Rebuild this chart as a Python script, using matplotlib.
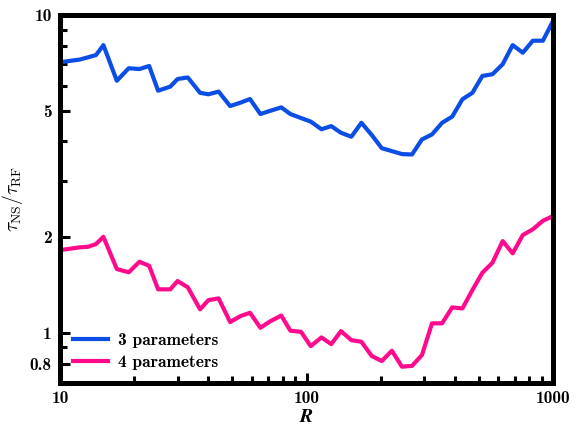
import matplotlib
matplotlib.use("Agg")
import matplotlib.pyplot as plt
from matplotlib.ticker import FixedLocator, NullFormatter

plt.rcParams['mathtext.fontset'] = 'cm'
plt.rcParams['font.family'] = ['cmb10', 'DejaVu Serif']
plt.rcParams['axes.unicode_minus'] = False

# sample sizes (log-spaced, truncated to integers)
R = [10, 10, 12, 13, 14, 15, 17, 19, 21, 23, 25, 28, 30, 33, 37, 40, 44, 49, 54, 59,
     65, 71, 79, 86, 95, 104, 115, 126, 138, 152, 167, 184, 202, 222, 244, 268, 294,
     323, 355, 390, 429, 471, 517, 568, 625, 686, 754, 828, 910, 1000]

ratio_3par = [7.06, 7.10, 7.24, 7.36, 7.48, 8.04, 6.21, 6.80, 6.76, 6.91, 5.78, 5.95,
              6.29, 6.36, 5.69, 5.63, 5.74, 5.17, 5.30, 5.44, 4.88, 4.99, 5.12, 4.88,
              4.74, 4.62, 4.37, 4.47, 4.26, 4.14, 4.58, 4.19, 3.81, 3.73, 3.65, 3.64,
              4.06, 4.21, 4.58, 4.79, 5.43, 5.69, 6.43, 6.51, 7.00, 8.04, 7.61, 8.30,
              8.30, 9.57]

ratio_4par = [1.82, 1.82, 1.857, 1.865, 1.902, 2.005, 1.587, 1.550, 1.673, 1.625, 1.370,
              1.370, 1.455, 1.390, 1.185, 1.267, 1.283, 1.081, 1.129, 1.156, 1.037, 1.085,
              1.133, 1.015, 1.007, 0.908, 0.967, 0.921, 1.012, 0.948, 0.937, 0.845, 0.815,
              0.878, 0.782, 0.787, 0.851, 1.071, 1.071, 1.202, 1.193, 1.363, 1.545, 1.661,
              1.944, 1.778, 2.030, 2.116, 2.251, 2.329]

y_major = [0.8, 1, 2, 5, 10]
y_major_labels = ['0.8', '1', '2', '5', '10']
y_minor = [0.9, 3, 4, 6, 7, 8, 9]
x_major = [10, 100, 1000]
x_minor = [20, 30, 40, 50, 60, 70, 80, 90, 200, 300, 400, 500, 600, 700, 800, 900]

fig = plt.figure(figsize=(5.74, 4.26), dpi=100)
ax = fig.add_axes([60/574, 1 - 383/426, 493/574, 368/426])

ax.plot(R, ratio_3par, color='#0a4ee6', lw=3.0, label='3 parameters')
ax.plot(R, ratio_4par, color='#ff0a8c', lw=3.0, label='4 parameters')

ax.set_xscale('log')
ax.set_yscale('log')
ax.set_xlim(10, 1000)
ax.set_ylim(0.695, 10)

ax.xaxis.set_major_locator(FixedLocator(x_major))
ax.xaxis.set_minor_locator(FixedLocator(x_minor))
ax.set_xticklabels([str(v) for v in x_major])
ax.xaxis.set_minor_formatter(NullFormatter())
ax.yaxis.set_major_locator(FixedLocator(y_major))
ax.yaxis.set_minor_locator(FixedLocator(y_minor))
ax.set_yticklabels(y_major_labels)
ax.yaxis.set_minor_formatter(NullFormatter())

for s in ax.spines.values():
    s.set_linewidth(3.6)
ax.tick_params(which='both', direction='in', top=False, right=False, labelsize=12.5)
ax.tick_params(which='major', length=7, width=2.2, pad=6)
ax.tick_params(which='minor', length=5, width=2.2)

ax.set_xlabel(r'$\mathbfit{R}$', fontsize=14, labelpad=1)
ax.set_ylabel(r'$\tau_{\rm NS}/\tau_{\rm RF}$', fontsize=14, labelpad=3.5)

ax.legend(loc='lower left', frameon=False, fontsize=12.5, handlelength=2.0,
          handletextpad=0.6, borderaxespad=0.35, labelspacing=0.4)

fig.savefig('out.png', dpi=100)
